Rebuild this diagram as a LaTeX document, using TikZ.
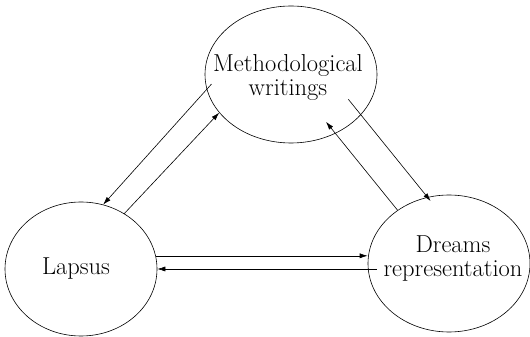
\documentclass[tikz,border=0pt]{standalone}
\usepackage{tikz}
\usetikzlibrary{shapes.geometric,arrows.meta}
\newcommand\labelfont{\fontsize{24.5}{24}\selectfont}

\begin{document}
\begin{tikzpicture}[x=1pt, y=1pt,
        bubble/.style={ellipse, draw, inner sep=0pt, line width=0.6pt},
        word/.style={font=\labelfont, align=center, inner sep=0pt},
        arr/.style={-{Latex[length=8pt, width=5pt]}, line width=0.6pt}]
        \useasboundingbox (0,0) rectangle (530,337);
        \node[bubble, minimum width=172pt, minimum height=137pt] (meth)  at (291, 262.5) {};
        \node[bubble, minimum width=152pt, minimum height=134pt] (lap)   at (81, 68) {};
        \node[bubble, minimum width=162pt, minimum height=137pt] (dream) at (449, 73.5) {};
        \node[word] (methtext)  at ([xshift=-3pt, yshift=-3pt]meth.center)  {Methodological\\writings};
        \node[word] (laptext)   at ([xshift=-5pt]lap.center)    {Lapsus};
        \node[word] (dreamtext) at ([xshift=4pt, yshift=5pt]dream.center) {Dreams\\representation};
        \draw[arr, shorten <=-7pt]                  (meth.190) -- (lap.71);
        \draw[arr]                                  (lap.52) -- (meth.208);
        \draw[arr, shorten <=-20pt, shorten >=-5pt] (meth.330) -- (dream.108);
        \draw[arr, shorten >=-15pt]                 (dream.134) -- (meth.307);
        \draw[arr]                                  (lap.10) -- (lap.10 -| dream.west);
        \draw[arr, shorten <=-9pt]                  (lap.east -| dream.west) -- (lap.east);
    \end{tikzpicture}
\end{document}
